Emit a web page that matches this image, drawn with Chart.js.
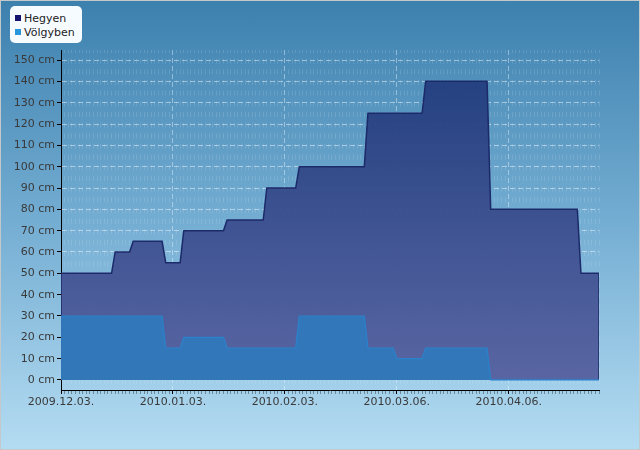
<!DOCTYPE html>
<html>
<head>
<meta charset="utf-8">
<script src="https://cdn.jsdelivr.net/npm/chart.js@4/dist/chart.umd.min.js"></script>
<style>
  body { margin: 0; }
  #wrap {
    position: relative; width: 640px; height: 450px; overflow: hidden;
    background: linear-gradient(to bottom, #3c80ae 0%, #75aed3 50%, #b4dcf2 100%);
  }
  #wrap canvas { position: absolute; left: 0; top: 0; }
  #frame {
    position: absolute; left: 0; top: 0; width: 640px; height: 450px;
    box-sizing: border-box; border: 1px solid #c3c8cb; pointer-events: none;
  }
  #legend {
    position: absolute; left: 10px; top: 6px; width: 72px; height: 37px;
    background: #f6fbff; border-radius: 5px;
    font: 11px "DejaVu Sans", sans-serif; color: #222;
  }
  #legend div { position: absolute; left: 5px; white-space: nowrap; }
  #legend span {
    display: inline-block; width: 6px; height: 6px; margin-right: 3px;
    vertical-align: 1px;
  }
</style>
</head>
<body>
<div id="wrap">
  <canvas id="snowChart" width="640" height="450"></canvas>
  <div id="legend">
    <div style="top:6px"><span style="background:#14146e"></span>Hegyen</div>
    <div style="top:20px"><span style="background:#2896dc"></span>Völgyben</div>
  </div>
  <div id="frame"></div>
</div>
<script>
// napok 2009.12.03-tól számolva
const hegyenDays = [0, 0, 14, 15, 19, 20, 28, 29, 33, 34, 45, 46, 56, 57, 65, 66, 84, 85, 100, 101, 118, 119, 143, 144, 149, 149];
const hegyenCm   = [0, 50, 50, 60, 60, 65, 65, 55, 55, 70, 70, 75, 75, 90, 90, 100, 100, 125, 125, 140, 140, 80, 80, 50, 50, 0];
const volgyDays  = [0, 28, 29, 33, 34, 45, 46, 65, 66, 84, 85, 92, 93, 100, 101, 118, 119, 149];
const volgyCm    = [30, 30, 15, 15, 20, 20, 15, 15, 30, 30, 15, 15, 10, 10, 15, 15, 0, 0];

const xTickDays   = [0, 31, 62, 93, 124];
const xTickLabels = ["2009.12.03.", "2010.01.03.", "2010.02.03.", "2010.03.06.", "2010.04.06."];
const yTickValues = [0, 10, 20, 30, 40, 50, 60, 70, 80, 90, 100, 110, 120, 130, 140, 150];

const lastDay = 149;
const minorDays = [];
for (let d = 0; d <= lastDay; d++) minorDays.push(d);

const toPoints = (xs, ys) => xs.map((x, i) => ({ x, y: ys[i] }));
const isMajor = c => c.tick && xTickDays.includes(c.tick.value);
const tickFont = { family: "DejaVu Sans", size: 11 };

// Hegyen kitöltés színátmenettel
function hegyenFill(c) {
  const chart = c.chart;
  if (!chart.chartArea) return "rgba(50,70,140,0.9)";
  const y = chart.scales.y;
  const g = chart.ctx.createLinearGradient(0, y.getPixelForValue(140), 0, y.getPixelForValue(0));
  g.addColorStop(0, "rgba(36,62,126,0.96)");
  g.addColorStop(1, "rgba(86,97,160,0.96)");
  return g;
}

new Chart(document.getElementById("snowChart"), {
  type: "line",
  data: {
    datasets: [
      {
        label: "Hegyen",
        data: toPoints(hegyenDays, hegyenCm),
        borderColor: "#1c2a6a",
        borderWidth: 1.5,
        backgroundColor: hegyenFill,
        fill: "origin",
        pointRadius: 0,
        tension: 0,
        order: 2
      },
      {
        label: "Völgyben",
        data: toPoints(volgyDays, volgyCm),
        borderColor: "#2a82cc",
        borderWidth: 1.2,
        backgroundColor: "rgba(48,121,186,0.95)",
        fill: "origin",
        pointRadius: 0,
        tension: 0,
        order: 1
      }
    ]
  },
  options: {
    responsive: false,
    animation: false,
    layout: { padding: { left: 0, top: 50, right: 41, bottom: 0 } },
    plugins: { legend: { display: false }, tooltip: { enabled: false } },
    scales: {
      x: {
        type: "linear",
        min: 0,
        max: lastDay,
        afterBuildTicks: s => { s.ticks = minorDays.map(v => ({ value: v })); },
        afterFit: s => { s.height = 60; },
        ticks: {
          autoSkip: false,
          maxRotation: 0,
          padding: 2,
          color: "#3a3a3a",
          font: tickFont,
          callback: v => {
            const i = xTickDays.indexOf(v);
            return i < 0 ? "" : xTickLabels[i];
          }
        },
        grid: {
          color: c => isMajor(c) ? "rgba(255,255,255,0.4)" : "rgba(255,255,255,0.12)",
          tickColor: c => isMajor(c) ? "#000" : "rgba(0,0,0,0.35)",
          tickLength: 4
        },
        border: {
          color: "#000",
          width: 1,
          dash: c => isMajor(c) ? [5, 3] : [5, 5.67],
          dashOffset: c => isMajor(c) ? 0 : 2
        }
      },
      y: {
        min: -4.7,
        max: 154.7,
        afterBuildTicks: s => { s.ticks = yTickValues.map(v => ({ value: v })); },
        afterFit: s => { s.width = 61; },
        ticks: {
          padding: 2,
          color: "#3a3a3a",
          font: tickFont,
          callback: v => v + " cm"
        },
        grid: {
          color: "rgba(255,255,255,0.45)",
          tickColor: "#000",
          tickLength: 4
        },
        border: { color: "#000", width: 1, dash: [5, 3] }
      }
    }
  }
});
</script>
</body>
</html>
